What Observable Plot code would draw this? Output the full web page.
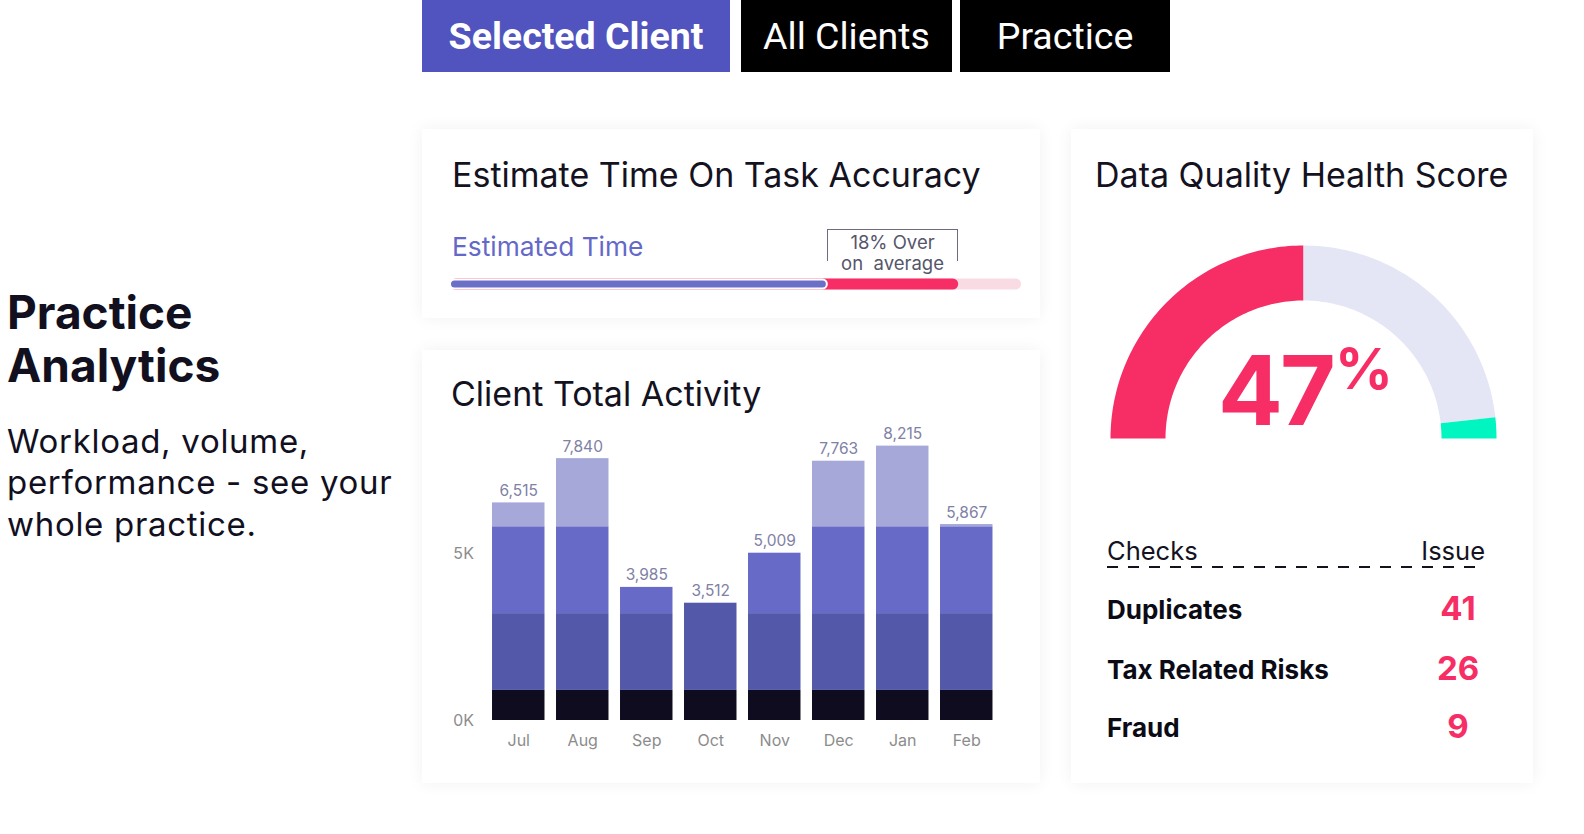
<!DOCTYPE html>
<html><head><meta charset="utf-8">
<script src="https://cdn.jsdelivr.net/npm/d3@7"></script>
<script src="https://cdn.jsdelivr.net/npm/@observablehq/plot@0.6"></script>
<style>
body{margin:0;background:#fff;font-family:Inter,"Noto Sans",sans-serif;color:#12101f;}
#root{position:relative;width:1584px;height:834px;overflow:hidden;background:#fff;}
.abs{position:absolute;white-space:nowrap;}
.btn{position:absolute;top:0;height:72px;display:flex;align-items:center;justify-content:center;color:#fff;font-family:"Liberation Sans Narrow",Roboto,sans-serif;font-size:37.5px;}
.card{position:absolute;background:#fff;box-shadow:0 0 16px rgba(30,30,70,0.06);}
.title{position:absolute;font-size:34px;line-height:34px;color:#14121f;white-space:nowrap;}
svg{overflow:visible;}
</style></head>
<body><div id="root"></div>
<script>
// ---------- data ----------
const tabs = ["Selected Client", "All Clients", "Practice"];
const headline = ["Practice", "Analytics"];
const blurb = ["Workload, volume,", "performance - see your", "whole practice."];

const months = ["Jul", "Aug", "Sep", "Oct", "Nov", "Dec", "Jan", "Feb"];
const totals = [6515, 7840, 3985, 3512, 5009, 7763, 8215, 5867];
const layerNames = ["Base", "Core", "Extended", "Peak"];
const layerBase = [900, 900, 900, 900, 900, 900, 900, 900];
const layerCore = [2300, 2300, 2300, 2612, 2300, 2300, 2300, 2300];
const layerExtended = [2600, 2600, 785, 0, 1809, 2600, 2600, 2600];
const layerPeak = [715, 2040, 0, 0, 0, 1963, 2415, 67];
const yTicks = [0, 5000];

const progressNames = ["Estimated", "Over", "Remaining"];
const progressValues = [66, 23, 11];
const overText = ["18% Over", "on  average"];

const gaugeNames = ["Score", "Rest", "Target"];
const gaugeValues = [50, 46.5, 3.5];
const scoreText = "47";

const checks = ["Duplicates", "Tax Related Risks", "Fraud"];
const issues = [41, 26, 9];

// ---------- layout ----------
const root = document.getElementById("root");
function el(tag, cls, css, text) {
  const e = document.createElement(tag);
  if (cls) e.className = cls;
  if (css) e.style.cssText = css;
  if (text != null) e.textContent = text;
  root.appendChild(e);
  return e;
}
function place(node, left, top) {
  node.style.position = "absolute";
  node.style.left = left + "px";
  node.style.top = top + "px";
  root.appendChild(node);
}

// tabs
const tabPos = [[422, 308, "#5154be", 700], [741, 211, "#000", 400], [960, 210, "#000", 400]];
tabs.forEach((t, i) => {
  const [l, w, bg, fw] = tabPos[i];
  el("div", "btn", `left:${l}px;width:${w}px;background:${bg};font-weight:${fw};`, t);
});

// left text
el("div", "abs", "left:7px;top:286px;font-size:46px;line-height:53px;font-weight:700;color:#12101f;", null).innerHTML = headline.join("<br>");
el("div", "abs", "left:7px;top:421px;font-size:33px;line-height:41.3px;font-weight:400;letter-spacing:0.7px;color:#12101f;", null).innerHTML = blurb.join("<br>");

// cards
el("div", "card", "left:422px;top:129px;width:618px;height:189px;");
el("div", "card", "left:422px;top:350px;width:618px;height:433px;");
el("div", "card", "left:1071px;top:129px;width:462px;height:654px;");

el("div", "title", "left:452px;top:158px;", "Estimate Time On Task Accuracy");
el("div", "title", "left:451px;top:377px;", "Client Total Activity");
el("div", "title", "left:1095px;top:158px;", "Data Quality Health Score");

el("div", "abs", "left:452px;top:234px;font-size:26.3px;line-height:26px;color:#6469c9;", "Estimated Time");

// ---------- progress bar ----------
const progCum = progressNames.map((n, i) => ({name: n, end: d3.sum(progressValues.slice(0, i + 1))}));
const progPlot = Plot.plot({
  width: 600, height: 20, marginLeft: 10, marginRight: 19, marginTop: 0, marginBottom: 0,
  x: {domain: [0, d3.sum(progressValues)], axis: null},
  style: {background: "transparent"},
  marks: [
    Plot.barX([progCum[2]], {x1: 0, x2: "end", fill: "#f9dbe3", insetTop: 4.5, insetBottom: 4.5, rx: 5.5}),
    Plot.barX([progCum[1]], {x1: 0, x2: "end", fill: "#f72d65", insetTop: 4.5, insetBottom: 4.5, rx: 5.5}),
    Plot.barX([progCum[0]], {x1: 0, x2: "end", fill: "#6a6fc8", stroke: "#fff", strokeWidth: 2, insetTop: 5.5, insetBottom: 5.5, rx: 4.5})
  ]
});
place(progPlot, 440, 274);
const px = progPlot.scale("x");
const bx0 = 440 + px.apply(progCum[0].end), bx1 = 440 + px.apply(progCum[1].end);
el("div", "abs", `left:${bx0}px;top:229px;width:${bx1 - bx0 - 2}px;height:31px;border:1.6px solid #6c6b80;border-bottom:none;`);
el("div", "abs", `left:${bx0}px;top:232px;width:${bx1 - bx0}px;text-align:center;font-size:18.5px;line-height:20.5px;color:#55556b;white-space:pre;`, null).textContent = overText.join("\n");

// ---------- stacked bar chart ----------
const layers = [layerBase, layerCore, layerExtended, layerPeak];
const rows = [];
layers.forEach((arr, li) => months.forEach((m, i) => rows.push({month: m, layer: layerNames[li], value: arr[i]})));
const totalRows = months.map((m, i) => ({month: m, total: totals[i]}));
const barPlot = Plot.plot({
  width: 618, height: 360, marginLeft: 58.5, marginRight: 36, marginTop: 19.4, marginBottom: 40,
  x: {domain: months, padding: 0.18, round: false, label: null, tickSize: 0, tickPadding: 14},
  y: {domain: [0, 9000], ticks: yTicks, tickFormat: d => d / 1000 + "K", label: null, tickSize: 0, tickPadding: 7},
  color: {domain: layerNames, range: ["#0f0c20", "#5358a8", "#676bc7", "#a5a8d8"]},
  style: {background: "transparent", fontFamily: "Inter, sans-serif", fontSize: "16px", color: "#8c8c8c"},
  marks: [
    Plot.barY(rows, {x: "month", y: "value", fill: "layer"}),
    Plot.text(totalRows, {x: "month", y: "total", text: d => d3.format(",")(d.total), dy: -12, fill: "#8081a6", fontSize: 15.5})
  ]
});
place(barPlot, 422, 400);

// ---------- gauge ----------
const rOuter = 1, rInner = 0.715;
const gTotal = d3.sum(gaugeValues);
const gaugeRows = [];
let acc = 0;
gaugeNames.forEach((name, i) => {
  const a0 = acc / gTotal, a1 = (acc + gaugeValues[i]) / gTotal;
  acc += gaugeValues[i];
  const n = 80;
  for (let k = 0; k <= n; k++) {
    const t = Math.PI * (1 - (a0 + (a1 - a0) * k / n));
    gaugeRows.push({name, x: Math.cos(t) * rOuter, y: Math.sin(t) * rOuter});
  }
  for (let k = n; k >= 0; k--) {
    const t = Math.PI * (1 - (a0 + (a1 - a0) * k / n));
    gaugeRows.push({name, x: Math.cos(t) * rInner, y: Math.sin(t) * rInner});
  }
});
const gaugePlot = Plot.plot({
  width: 406, height: 208, marginLeft: 10, marginRight: 10, marginTop: 10, marginBottom: 5,
  x: {domain: [-1, 1], axis: null},
  y: {domain: [0, 1], axis: null},
  color: {domain: gaugeNames, range: ["#f72d65", "#e4e5f5", "#00f5c0"]},
  style: {background: "transparent"},
  marks: [
    Plot.line(gaugeRows, {x: "x", y: "y", z: "name", fill: "name", stroke: null, curve: "linear-closed"})
  ]
});
place(gaugePlot, 1100, 235);
el("div", "abs", "left:1218px;top:342px;font-size:96px;line-height:96px;font-weight:700;color:#f72d65;letter-spacing:-3px;", scoreText);
el("div", "abs", "left:1335px;top:340px;font-size:57px;line-height:57px;font-weight:700;color:#f72d65;", "%");

// ---------- checks table ----------
el("div", "abs", "left:1107px;top:538px;font-size:25.5px;line-height:25px;color:#14121f;", "Checks");
el("div", "abs", "left:1385px;width:100px;text-align:right;top:538px;font-size:25.5px;line-height:25px;color:#14121f;", "Issue");
const dash = document.createElementNS("http://www.w3.org/2000/svg", "svg");
dash.setAttribute("width", 380); dash.setAttribute("height", 4);
dash.innerHTML = '<line x1="0" y1="2" x2="378" y2="2" stroke="#14121f" stroke-width="2" stroke-dasharray="11 10"/>';
place(dash, 1107, 565);
const rowY = [610, 670, 728];
checks.forEach((c, i) => {
  el("div", "abs", `left:1107px;top:${rowY[i] - 13}px;font-size:26px;line-height:26px;font-weight:700;color:#0b0b15;`, c);
  el("div", "abs", `left:1408px;width:100px;text-align:center;top:${rowY[i] - 18.5}px;font-size:33px;line-height:33px;font-weight:700;color:#f72d65;`, String(issues[i]));
});
</script>
</body></html>
